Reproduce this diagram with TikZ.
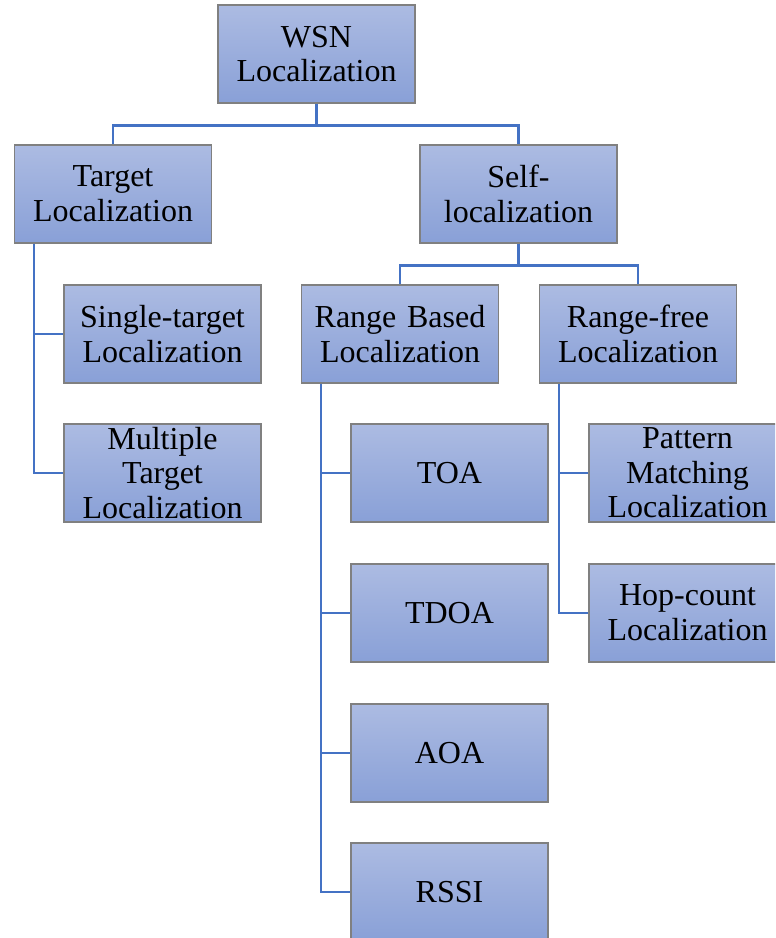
\documentclass[tikz,border=0pt]{standalone}
\usepackage{fontspec}
\setmainfont{Liberation Serif}
\usetikzlibrary{calc}
\definecolor{linkc}{RGB}{68,114,196}
\definecolor{boxtop}{RGB}{172,187,226}
\definecolor{boxbot}{RGB}{137,160,215}
\definecolor{boxedge}{RGB}{128,128,128}
\tikzset{
  box/.style={draw=boxedge, line width=0.8pt, top color=boxtop, bottom color=boxbot,
    minimum width=147.75pt, minimum height=73.5pt, text width=140pt, align=center,
    inner sep=0pt, font=\fontsize{24}{26}\selectfont},
  link/.style={draw=linkc, line width=1.6pt}
}
\begin{document}
\begin{tikzpicture}[x=0.75pt,y=-0.75pt]
\useasboundingbox (0,0) rectangle (775,938);
\clip (0,0) rectangle (775,938);
\fill[white] (0,0) rectangle (775,938);
\node[box] (wsn) at (316.5,54) {WSN\\Localization};
\node[box] (tgt) at (113,194) {Target\\Localization};
\node[box] (self) at (518.5,194) {Self-\\localization};
\node[box] (single) at (162.5,334) {Single-target\\Localization};
\node[box] (multi) at (162.5,473) {Multiple\\Target\\Localization};
\node[box] (rb) at (400,334) {Range Based\\Localization};
\node[box] (rf) at (638,334) {Range-free\\Localization};
\node[box] (toa) at (449.5,473) {TOA};
\node[box] (tdoa) at (449.5,613) {TDOA};
\node[box] (aoa) at (449.5,753) {AOA};
\node[box] (rssi) at (449.5,892) {RSSI};
\node[box] (pm) at (687.5,473) {Pattern\\Matching\\Localization};
\node[box] (hop) at (687.5,613) {Hop-count\\Localization};
% tree connectors
\coordinate (j1) at ($(wsn.south)+(0,-16.5pt)$);
\draw[link] (wsn.south) -- (j1);
\draw[link] (tgt.north) -- (tgt.north |- j1) -- (self.north |- j1) -- (self.north);
\coordinate (j2) at ($(self.south)+(0,-16.5pt)$);
\draw[link] (self.south) -- (j2);
\draw[link] (rb.north) -- (rb.north |- j2) -- (rf.north |- j2) -- (rf.north);
% side connectors
\coordinate (tv) at ($(tgt.south west)+(15pt,0)$);
\draw[link] (tv) |- (multi.west);
\draw[link] (tv |- single.west) -- (single.west);
\coordinate (rv) at ($(rb.south west)+(15pt,0)$);
\draw[link] (rv) |- (rssi.west);
\draw[link] (rv |- toa.west) -- (toa.west);
\draw[link] (rv |- tdoa.west) -- (tdoa.west);
\draw[link] (rv |- aoa.west) -- (aoa.west);
\coordinate (fv) at ($(rf.south west)+(15pt,0)$);
\draw[link] (fv) |- (hop.west);
\draw[link] (fv |- pm.west) -- (pm.west);
\end{tikzpicture}
\end{document}
